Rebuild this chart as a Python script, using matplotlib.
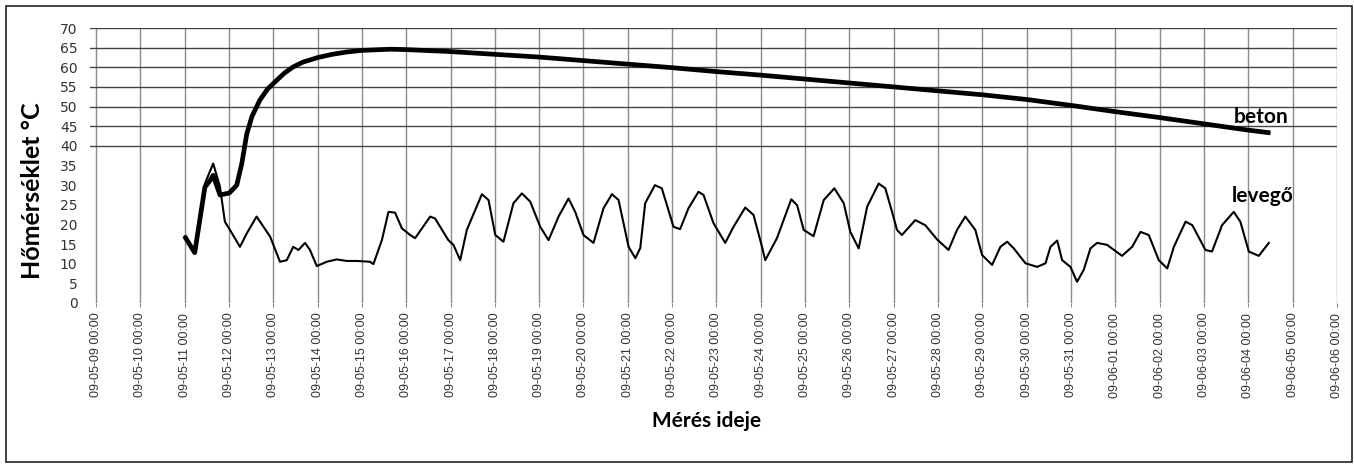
import matplotlib
matplotlib.use("Agg")
import matplotlib.pyplot as plt
import matplotlib.dates as mdates
from matplotlib.patches import Rectangle
import pandas as pd

# levegő (air) temperature
air_time = [
    "05-11 00:00", "05-11 05:30", "05-11 11:00", "05-11 15:30", "05-11 19:10", "05-11 21:50",
    "05-12 00:35", "05-12 06:00", "05-12 09:40", "05-12 15:00", "05-12 22:20",
    "05-13 03:40", "05-13 07:20", "05-13 10:50", "05-13 13:40", "05-13 17:15", "05-13 19:55", "05-13 23:35",
    "05-14 05:00", "05-14 10:25", "05-14 15:50", "05-14 21:15",
    "05-15 04:25", "05-15 06:15", "05-15 10:50", "05-15 14:25", "05-15 18:00", "05-15 21:40",
    "05-16 02:10", "05-16 04:50", "05-16 13:00", "05-16 15:40", "05-16 22:50",
    "05-17 01:35", "05-17 05:15", "05-17 08:50", "05-17 17:00", "05-17 20:35",
    "05-18 00:15", "05-18 04:40", "05-18 10:05", "05-18 14:40", "05-18 19:10",
    "05-19 00:35", "05-19 05:05", "05-19 10:30", "05-19 15:55", "05-19 19:30",
    "05-20 00:00", "05-20 05:25", "05-20 10:50", "05-20 15:25", "05-20 19:00",
    "05-21 00:25", "05-21 04:05", "05-21 06:45", "05-21 09:25", "05-21 14:40", "05-21 18:25",
    "05-22 00:45", "05-22 04:20", "05-22 08:50", "05-22 14:15", "05-22 17:00", "05-22 22:25",
    "05-23 04:45", "05-23 09:15", "05-23 15:35", "05-23 20:05",
    "05-24 00:40", "05-24 02:25", "05-24 08:45", "05-24 16:30", "05-24 19:40", "05-24 23:15",
    "05-25 04:35", "05-25 10:05", "05-25 15:50", "05-25 20:55",
    "05-26 00:30", "05-26 05:00", "05-26 09:35", "05-26 15:50", "05-26 19:25", "05-26 23:05",
    "05-27 01:45", "05-27 04:25", "05-27 11:40", "05-27 17:05", "05-27 23:25",
    "05-28 05:40", "05-28 10:15", "05-28 14:45", "05-28 20:10", "05-28 23:50",
    "05-29 05:15", "05-29 09:45", "05-29 13:25", "05-29 17:00", "05-29 23:20",
    "05-30 05:40", "05-30 10:10", "05-30 12:50", "05-30 16:30", "05-30 19:10", "05-30 23:40",
    "05-31 03:15", "05-31 06:50", "05-31 10:30", "05-31 14:05", "05-31 19:30",
    "06-01 03:35", "06-01 09:05", "06-01 13:35", "06-01 18:05", "06-01 23:30",
    "06-02 04:05", "06-02 07:40", "06-02 14:00", "06-02 17:40",
    "06-03 00:45", "06-03 04:20", "06-03 09:45", "06-03 16:05", "06-03 19:40",
    "06-04 00:15", "06-04 05:40", "06-04 11:05",
]
air_temp = [
    17.0, 12.6, 30.4, 35.5, 29.6, 20.7,
    18.6, 14.3, 17.7, 22.0, 16.9,
    10.5, 10.9, 14.3, 13.5, 15.3, 13.5, 9.4,
    10.5, 11.1, 10.7, 10.7,
    10.5, 9.9, 16.0, 23.2, 23.0, 19.0,
    17.3, 16.5, 22.0, 21.5, 16.0,
    14.8, 10.9, 18.6, 27.7, 26.2,
    17.3, 15.6, 25.4, 27.9, 25.8,
    19.4, 16.0, 22.0, 26.6, 23.2,
    17.3, 15.3, 24.1, 27.7, 26.2,
    14.3, 11.4, 14.0, 25.4, 30.0, 29.2,
    19.4, 18.8, 24.1, 28.3, 27.5, 20.3,
    15.3, 19.4, 24.3, 22.4,
    14.3, 10.9, 16.5, 26.4, 24.9, 18.6,
    17.0, 26.2, 29.2, 25.4,
    18.1, 13.9, 24.5, 30.4, 29.2, 23.2,
    18.6, 17.3, 21.1, 19.8, 16.2,
    13.5, 18.6, 22.0, 18.6, 12.2,
    9.7, 14.3, 15.6, 13.9, 10.1,
    9.2, 10.1, 14.3, 15.9, 10.9, 9.2,
    5.4, 8.4, 13.9, 15.3, 14.8,
    12.0, 14.3, 18.1, 17.3, 10.9,
    8.8, 14.3, 20.7, 19.8,
    13.5, 13.1, 19.8, 23.2, 20.7,
    13.1, 12.0, 15.3,
]

# beton (concrete) temperature
beton_time = [
    "05-11 00:00", "05-11 05:30", "05-11 11:00", "05-11 13:30", "05-11 15:30", "05-11 19:10",
    "05-12 00:15", "05-12 04:15", "05-12 07:00", "05-12 09:40", "05-12 12:30", "05-12 16:50",
    "05-12 21:00", "05-13 01:55", "05-13 06:00", "05-13 10:50", "05-13 16:00",
    "05-14 00:15", "05-14 08:00", "05-14 16:00", "05-15 00:00", "05-15 15:20",
    "05-16 00:00", "05-17 00:00", "05-18 00:00", "05-19 00:00", "05-20 00:00",
    "05-21 00:00", "05-22 00:00", "05-23 00:00", "05-24 00:00", "05-25 00:00",
    "05-26 00:00", "05-27 00:00", "05-28 00:00", "05-29 00:00", "05-30 00:00",
    "05-31 00:00", "06-01 00:00", "06-02 00:00", "06-03 00:00", "06-04 00:00",
    "06-04 12:00",
]
beton_temp = [
    17.0, 12.8, 29.5, 31.0, 32.5, 27.5,
    28.0, 30.0, 35.5, 43.0, 47.5, 51.7,
    54.5, 56.7, 58.5, 60.1, 61.3,
    62.5, 63.3, 63.9, 64.3, 64.6,
    64.5, 64.0, 63.3, 62.6, 61.7,
    60.8, 59.9, 58.9, 58.0, 57.0,
    56.0, 55.0, 54.0, 53.0, 51.8,
    50.3, 48.7, 47.2, 45.6, 44.0,
    43.3,
]

air_t = pd.to_datetime(["2009-" + s for s in air_time])
beton_t = pd.to_datetime(["2009-" + s for s in beton_time])

fig = plt.figure(figsize=(13.54, 4.66), dpi=100)
ax = fig.add_axes([90 / 1354, 1 - 303 / 466, (1337 - 90) / 1354, (303 - 28) / 466])

day_ticks = pd.date_range("2009-05-09", "2009-06-06", freq="D")
for d in day_ticks:
    ax.axvline(d, color="#8a8a8a", lw=1.0, zorder=1)
for v in range(40, 75, 5):
    ax.axhline(v, color="#444444", lw=1.0, zorder=1)

ax.plot(air_t, air_temp, color="black", lw=1.5, zorder=3)
ax.plot(beton_t, beton_temp, color="black", lw=3.4, zorder=4,
        solid_joinstyle="round", solid_capstyle="butt")

ax.set_xlim(pd.Timestamp("2009-05-09") - pd.Timedelta(hours=3.2), pd.Timestamp("2009-06-06"))
ax.set_ylim(0, 70)
ax.set_yticks(range(0, 75, 5))
ax.set_xticks(day_ticks)
ax.xaxis.set_major_formatter(mdates.DateFormatter("%y-%m-%d %H:%M"))

for s in ax.spines.values():
    s.set_visible(False)
ax.tick_params(axis="y", length=0, pad=9, labelsize=10, labelcolor="#333333")
ax.tick_params(axis="x", length=3, color="#8a8a8a", pad=4, labelsize=9, labelcolor="#333333")
for lab in ax.get_yticklabels():
    lab.set_family(["DejaVu Sans"])
for lab in ax.get_xticklabels():
    lab.set_rotation(90)
    lab.set_family(["Liberation Sans Narrow", "Liberation Sans", "DejaVu Sans"])

label_font = dict(family=["Lato", "DejaVu Sans"], fontweight="bold")
ax.set_ylabel("Hőmérséklet °C", fontsize=18, **label_font)
ax.yaxis.set_label_coords(-0.037, 0.41)
fig.text(707 / 1354, 1 - 421 / 466, "Mérés ideje", ha="center", va="center",
         fontsize=15, **label_font)

ax.text(pd.Timestamp("2009-06-04 06:40"), 47.3, "beton", ha="center", va="center",
        fontsize=15, zorder=5, **label_font)
ax.text(pd.Timestamp("2009-06-04 08:00"), 27.2, "levegő", ha="center", va="center",
        fontsize=15, zorder=5, **label_font)

fig.patches.append(Rectangle((6 / 1354, 4 / 466), 1346 / 1354, 456 / 466,
                             transform=fig.transFigure, fill=False, ec="#222222", lw=1.2))

fig.savefig("out.png", dpi=100, facecolor="white")
